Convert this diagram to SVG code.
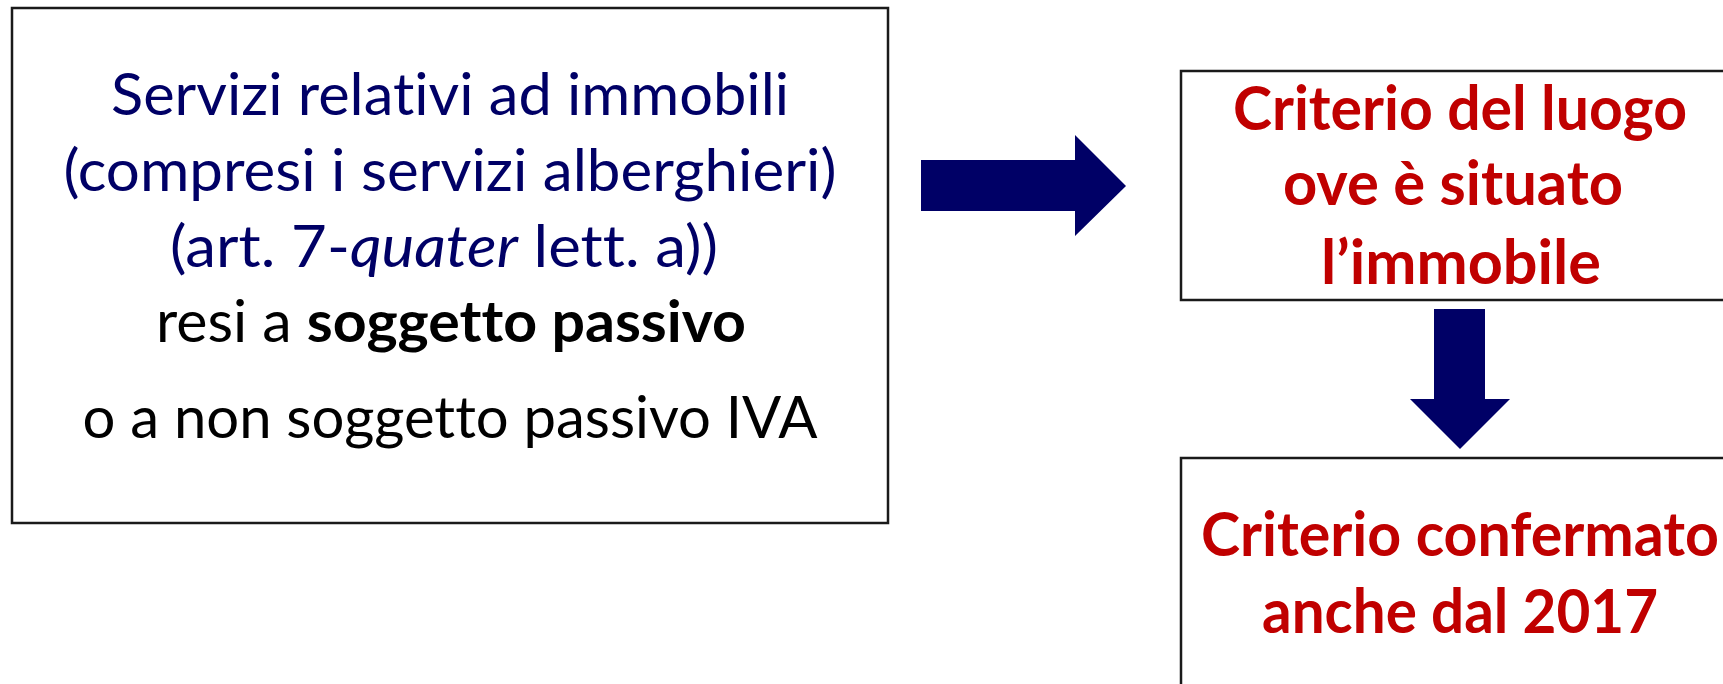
<svg xmlns="http://www.w3.org/2000/svg" width="1723" height="684" viewBox="0 0 1723 684">
<style>
.box{fill:#fff;stroke:#1a1a1a;stroke-width:2.5}
.t{font-family:Lato,"Liberation Sans",sans-serif;text-anchor:middle;font-variant-ligatures:none;font-feature-settings:"liga" 0,"dlig" 0}
.navy{fill:#000066}
.blk{fill:#000}
.red{fill:#C00000;font-weight:bold}
.arrow{fill:#000066}
</style>
<rect width="1723" height="684" fill="#fff"/>
<g id="node-servizi">
<rect class="box" x="12" y="8" width="876" height="515"/>
<text class="t navy" x="450" y="115" font-size="58" textLength="678" lengthAdjust="spacingAndGlyphs">Servizi relativi ad immobili</text>
<text class="t navy" x="450" y="191" font-size="58" textLength="773" lengthAdjust="spacingAndGlyphs">(compresi i servizi alberghieri)</text>
<text class="t navy" x="444" y="267" font-size="58" textLength="548" lengthAdjust="spacingAndGlyphs">(art. 7-<tspan font-style="italic">quater</tspan> lett. a))</text>
<text class="t blk" x="451" y="342" font-size="58" textLength="590" lengthAdjust="spacingAndGlyphs">resi a <tspan font-weight="bold">soggetto passivo</tspan></text>
<text class="t blk" x="450" y="438" font-size="58" textLength="735" lengthAdjust="spacingAndGlyphs">o a non soggetto passivo IVA</text>
</g>
<g id="node-criterio-luogo">
<rect class="box" x="1181" y="71" width="580" height="229"/>
<text class="t red" x="1460" y="130" font-size="61" textLength="454" lengthAdjust="spacingAndGlyphs">Criterio del luogo</text>
<text class="t red" x="1453" y="205" font-size="61" textLength="340" lengthAdjust="spacingAndGlyphs">ove è situato</text>
<text class="t red" x="1461" y="284" font-size="61" textLength="280" lengthAdjust="spacingAndGlyphs">l’immobile</text>
</g>
<g id="node-criterio-confermato">
<rect class="box" x="1181" y="458" width="580" height="260"/>
<text class="t red" x="1460" y="556" font-size="61" textLength="518" lengthAdjust="spacingAndGlyphs">Criterio confermato</text>
<text class="t red" x="1460" y="633" font-size="61" textLength="396" lengthAdjust="spacingAndGlyphs">anche dal 2017</text>
</g>
<g id="connectors">
<polygon class="arrow" points="921,160 1075,160 1075,135 1126,186 1075,236 1075,211 921,211"/>
<polygon class="arrow" points="1434,309 1485,309 1485,399 1510,399 1460,449 1410,399 1434,399"/>
</g>
</svg>
